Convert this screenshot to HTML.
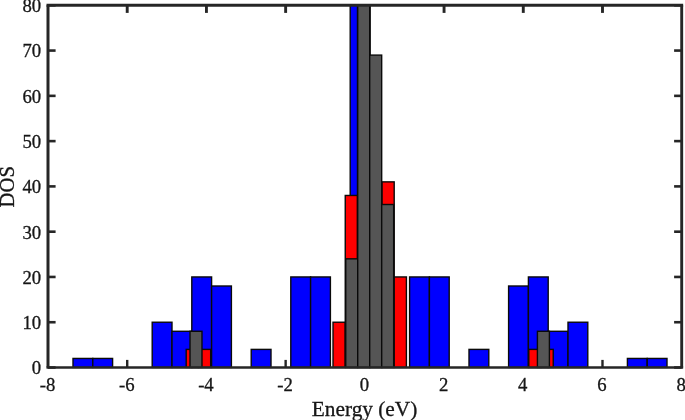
<!DOCTYPE html>
<html lang="en"><head><meta charset="utf-8"><title>DOS histogram</title>
<style>
html,body{margin:0;padding:0;background:#fff;}
body{width:685px;height:420px;overflow:hidden;}
svg{display:block;}
text{font-family:"Liberation Serif","Times New Roman",serif;fill:#161616;stroke:#161616;stroke-width:0.3px;}
.tk{font-size:18.2px;}
.lb{font-size:20.7px;}
</style></head><body>
<svg width="685" height="420" viewBox="0 0 685 420">
<rect x="0" y="0" width="685" height="420" fill="#ffffff"/>
<defs><clipPath id="ax"><rect x="48.0" y="4.7" width="633.7" height="363.8"/></clipPath></defs>
<g stroke="#262626" fill="none">
<line x1="127.21" y1="367.5" x2="127.21" y2="359.9" stroke-width="2.4"/><line x1="127.21" y1="5.3" x2="127.21" y2="12.899999999999999" stroke-width="2.9"/>
<line x1="206.43" y1="367.5" x2="206.43" y2="359.9" stroke-width="2.4"/><line x1="206.43" y1="5.3" x2="206.43" y2="12.899999999999999" stroke-width="2.9"/>
<line x1="285.64" y1="367.5" x2="285.64" y2="359.9" stroke-width="2.4"/><line x1="285.64" y1="5.3" x2="285.64" y2="12.899999999999999" stroke-width="2.9"/>
<line x1="364.85" y1="367.5" x2="364.85" y2="359.9" stroke-width="2.4"/><line x1="364.85" y1="5.3" x2="364.85" y2="12.899999999999999" stroke-width="2.9"/>
<line x1="444.06" y1="367.5" x2="444.06" y2="359.9" stroke-width="2.4"/><line x1="444.06" y1="5.3" x2="444.06" y2="12.899999999999999" stroke-width="2.9"/>
<line x1="523.28" y1="367.5" x2="523.28" y2="359.9" stroke-width="2.4"/><line x1="523.28" y1="5.3" x2="523.28" y2="12.899999999999999" stroke-width="2.9"/>
<line x1="602.49" y1="367.5" x2="602.49" y2="359.9" stroke-width="2.4"/><line x1="602.49" y1="5.3" x2="602.49" y2="12.899999999999999" stroke-width="2.9"/>
<line x1="48.0" y1="367.50" x2="55.6" y2="367.50" stroke-width="2.6"/><line x1="681.7" y1="367.50" x2="674.1" y2="367.50" stroke-width="2.6"/>
<line x1="48.0" y1="322.23" x2="55.6" y2="322.23" stroke-width="2.6"/><line x1="681.7" y1="322.23" x2="674.1" y2="322.23" stroke-width="2.6"/>
<line x1="48.0" y1="276.95" x2="55.6" y2="276.95" stroke-width="2.6"/><line x1="681.7" y1="276.95" x2="674.1" y2="276.95" stroke-width="2.6"/>
<line x1="48.0" y1="231.68" x2="55.6" y2="231.68" stroke-width="2.6"/><line x1="681.7" y1="231.68" x2="674.1" y2="231.68" stroke-width="2.6"/>
<line x1="48.0" y1="186.40" x2="55.6" y2="186.40" stroke-width="2.6"/><line x1="681.7" y1="186.40" x2="674.1" y2="186.40" stroke-width="2.6"/>
<line x1="48.0" y1="141.12" x2="55.6" y2="141.12" stroke-width="2.6"/><line x1="681.7" y1="141.12" x2="674.1" y2="141.12" stroke-width="2.6"/>
<line x1="48.0" y1="95.85" x2="55.6" y2="95.85" stroke-width="2.6"/><line x1="681.7" y1="95.85" x2="674.1" y2="95.85" stroke-width="2.6"/>
<line x1="48.0" y1="50.57" x2="55.6" y2="50.57" stroke-width="2.6"/><line x1="681.7" y1="50.57" x2="674.1" y2="50.57" stroke-width="2.6"/>
<line x1="48.0" y1="5.30" x2="55.6" y2="5.30" stroke-width="2.6"/><line x1="681.7" y1="5.30" x2="674.1" y2="5.30" stroke-width="2.6"/>
</g>
<g clip-path="url(#ax)" fill="#0000ff" stroke="#0a0a0a" stroke-width="1.4">
<rect x="73.00" y="358.44" width="19.80" height="9.06"/>
<rect x="92.80" y="358.44" width="19.80" height="9.06"/>
<rect x="152.20" y="322.23" width="19.80" height="45.27"/>
<rect x="172.00" y="331.28" width="19.80" height="36.22"/>
<rect x="191.80" y="276.95" width="19.80" height="90.55"/>
<rect x="211.60" y="286.00" width="19.80" height="81.50"/>
<rect x="251.20" y="349.39" width="19.80" height="18.11"/>
<rect x="290.80" y="276.95" width="19.80" height="90.55"/>
<rect x="310.60" y="276.95" width="19.80" height="90.55"/>
<rect x="350.20" y="-85.25" width="19.80" height="452.75"/>
<rect x="409.60" y="276.95" width="19.80" height="90.55"/>
<rect x="429.40" y="276.95" width="19.80" height="90.55"/>
<rect x="469.00" y="349.39" width="19.80" height="18.11"/>
<rect x="508.60" y="286.00" width="19.80" height="81.50"/>
<rect x="528.40" y="276.95" width="19.80" height="90.55"/>
<rect x="548.20" y="331.28" width="19.80" height="36.22"/>
<rect x="568.00" y="322.23" width="19.80" height="45.27"/>
<rect x="627.40" y="358.44" width="19.80" height="9.06"/>
<rect x="647.20" y="358.44" width="19.80" height="9.06"/>
</g>
<g clip-path="url(#ax)" fill="#ff0000" stroke="#0a0a0a" stroke-width="1.4">
<rect x="186.20" y="349.39" width="12.23" height="18.11"/>
<rect x="198.44" y="349.39" width="12.23" height="18.11"/>
<rect x="333.02" y="322.23" width="12.23" height="45.27"/>
<rect x="345.25" y="195.46" width="12.23" height="172.04"/>
<rect x="357.49" y="-85.25" width="12.23" height="452.75"/>
<rect x="369.72" y="231.68" width="12.23" height="135.82"/>
<rect x="381.96" y="181.87" width="12.23" height="185.63"/>
<rect x="394.19" y="276.95" width="12.23" height="90.55"/>
<rect x="528.78" y="349.39" width="12.23" height="18.11"/>
<rect x="541.01" y="349.39" width="12.23" height="18.11"/>
</g>
<g clip-path="url(#ax)" fill="#555555" stroke="#0a0a0a" stroke-width="1.4">
<rect x="190.00" y="331.28" width="11.98" height="36.22"/>
<rect x="345.74" y="258.84" width="11.98" height="108.66"/>
<rect x="357.72" y="-85.25" width="11.98" height="452.75"/>
<rect x="369.70" y="55.10" width="11.98" height="312.40"/>
<rect x="381.68" y="204.51" width="11.98" height="162.99"/>
<rect x="537.42" y="331.28" width="11.98" height="36.22"/>
</g>
<g stroke="#262626" fill="none">
<line x1="46.5" y1="5.3" x2="683.1500000000001" y2="5.3" stroke-width="3.0"/>
<line x1="46.5" y1="367.5" x2="683.1500000000001" y2="367.5" stroke-width="2.4"/>
<line x1="48.0" y1="5.3" x2="48.0" y2="367.5" stroke-width="3.0"/>
<line x1="681.7" y1="5.3" x2="681.7" y2="367.5" stroke-width="2.9"/>
</g>
<text class="tk" text-anchor="middle" transform="translate(47.50,391.40) scale(1.03,1)">-8</text>
<text class="tk" text-anchor="middle" transform="translate(126.71,391.40) scale(1.03,1)">-6</text>
<text class="tk" text-anchor="middle" transform="translate(205.93,391.40) scale(1.03,1)">-4</text>
<text class="tk" text-anchor="middle" transform="translate(285.14,391.40) scale(1.03,1)">-2</text>
<text class="tk" text-anchor="middle" transform="translate(364.35,391.40) scale(1.03,1)">0</text>
<text class="tk" text-anchor="middle" transform="translate(443.56,391.40) scale(1.03,1)">2</text>
<text class="tk" text-anchor="middle" transform="translate(522.78,391.40) scale(1.03,1)">4</text>
<text class="tk" text-anchor="middle" transform="translate(601.99,391.40) scale(1.03,1)">6</text>
<text class="tk" text-anchor="middle" transform="translate(681.20,391.40) scale(1.03,1)">8</text>
<text class="tk" text-anchor="end" transform="translate(41.20,374.40) scale(1.03,1)">0</text>
<text class="tk" text-anchor="end" transform="translate(41.20,329.12) scale(1.03,1)">10</text>
<text class="tk" text-anchor="end" transform="translate(41.20,283.85) scale(1.03,1)">20</text>
<text class="tk" text-anchor="end" transform="translate(41.20,238.58) scale(1.03,1)">30</text>
<text class="tk" text-anchor="end" transform="translate(41.20,193.30) scale(1.03,1)">40</text>
<text class="tk" text-anchor="end" transform="translate(41.20,148.03) scale(1.03,1)">50</text>
<text class="tk" text-anchor="end" transform="translate(41.20,102.75) scale(1.03,1)">60</text>
<text class="tk" text-anchor="end" transform="translate(41.20,57.47) scale(1.03,1)">70</text>
<text class="tk" text-anchor="end" transform="translate(41.20,12.20) scale(1.03,1)">80</text>
<text class="lb" text-anchor="middle" transform="translate(364.55,415.60) scale(1.03,1)">Energy (eV)</text>
<text class="lb" text-anchor="middle" transform="translate(13.60,186.80) scale(1.03,1) rotate(-90)">DOS</text>
</svg>
</body></html>
